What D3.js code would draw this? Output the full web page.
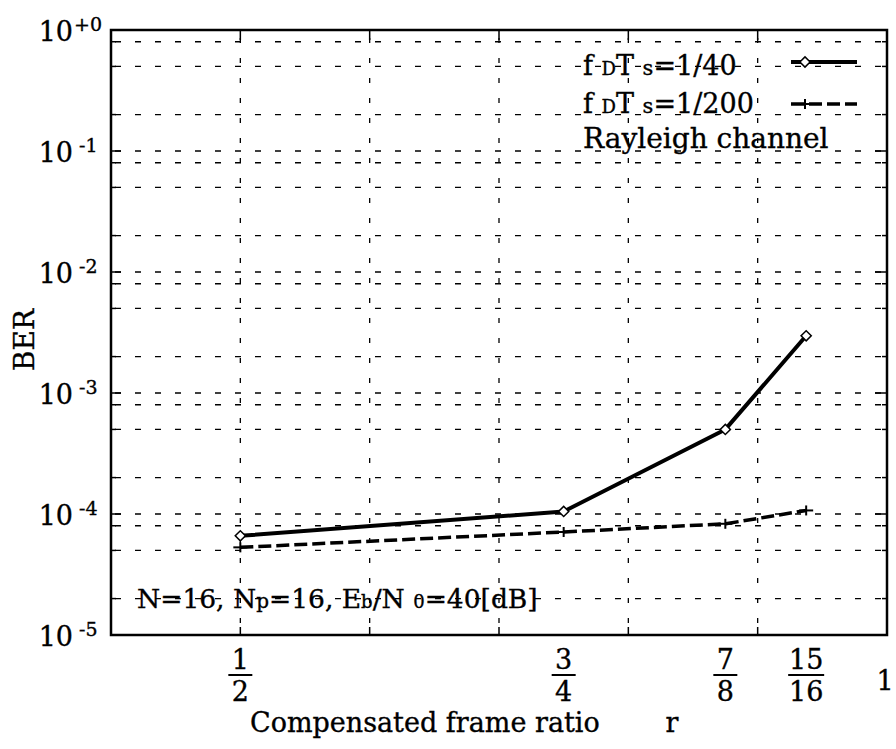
<!DOCTYPE html>
<html>
<head>
<meta charset="utf-8">
<script src="https://cdn.jsdelivr.net/npm/d3@7"></script>
<style>
  html, body { margin: 0; padding: 0; background: #fff; }
  svg { display: block; font-family: "DejaVu Serif", "Liberation Serif", serif; }
  svg text { stroke: #000; stroke-width: 0.35px; }
</style>
</head>
<body>
<svg id="chart" width="896" height="749"></svg>
<script>
// ---- data ----
const ratios = [0.5, 0.75, 0.875, 0.9375];
const berFd40 = [6.6e-5, 1.05e-4, 5.0e-4, 2.97e-3];
const berFd200 = [5.3e-5, 7.1e-5, 8.3e-5, 1.07e-4];
const seriesNames = ["1/40", "1/200"];
const xTickValues = [0.5, 0.75, 0.875, 0.9375];
const xTickNums = ["1", "3", "7", "15"];
const xTickDens = ["2", "4", "8", "16"];
const xGridValues = [0.5, 0.6, 0.7, 0.8, 0.9];
const yDecadeExps = [0, -1, -2, -3, -4, -5];
const yMantissas = [2, 5, 8];

// ---- layout ----
const svg = d3.select("#chart");
const L = 111, R = 887, T = 30, B = 635;
const x = d3.scaleLinear().domain([0.4, 1.0]).range([L, R]);
const y = d3.scaleLog().domain([1e-5, 1]).range([B, T]);

const yGridValues = [];
yDecadeExps.forEach(e => {
  if (e < 0 && e > -5) yGridValues.push(Math.pow(10, e));
  if (e > -5) yMantissas.forEach(m => yGridValues.push(m * Math.pow(10, e - 1)));
});

const g = svg.append("g");

// horizontal grid
g.selectAll("line.hg").data(yGridValues).enter().append("line")
  .attr("x1", L).attr("x2", R)
  .attr("y1", d => y(d)).attr("y2", d => y(d))
  .attr("stroke", "#000").attr("stroke-width", 1.3)
  .attr("stroke-dasharray", "6,14").attr("stroke-dashoffset", -4);

// vertical grid
g.selectAll("line.vg").data(xGridValues).enter().append("line")
  .attr("x1", d => x(d)).attr("x2", d => x(d))
  .attr("y1", T).attr("y2", B)
  .attr("stroke", "#000").attr("stroke-width", 1.3)
  .attr("stroke-dasharray", "5,15").attr("stroke-dashoffset", -8);

// ticks on the frame
const isDecade = v => Math.abs(Math.log10(v) - Math.round(Math.log10(v))) < 1e-6;
g.selectAll("line.lt").data(yGridValues).enter().append("line")
  .attr("x1", L).attr("x2", d => L + (isDecade(d) ? 10 : 5))
  .attr("y1", d => y(d)).attr("y2", d => y(d))
  .attr("stroke", "#000").attr("stroke-width", 1.5);
g.selectAll("line.rt").data(yGridValues).enter().append("line")
  .attr("x1", R).attr("x2", d => R - (isDecade(d) ? 12 : 5))
  .attr("y1", d => y(d)).attr("y2", d => y(d))
  .attr("stroke", "#000").attr("stroke-width", 1.5);
g.selectAll("line.bt").data(xGridValues).enter().append("line")
  .attr("x1", d => x(d)).attr("x2", d => x(d))
  .attr("y1", B).attr("y2", B - 8)
  .attr("stroke", "#000").attr("stroke-width", 1.5);
g.selectAll("line.tt").data(xGridValues).enter().append("line")
  .attr("x1", d => x(d)).attr("x2", d => x(d))
  .attr("y1", T).attr("y2", T + 10)
  .attr("stroke", "#000").attr("stroke-width", 1.5);

// frame
g.append("rect").attr("x", L).attr("y", T).attr("width", R - L).attr("height", B - T)
  .attr("fill", "none").attr("stroke", "#000").attr("stroke-width", 2.5);

// y tick labels
const yl = g.selectAll("g.ylab").data(yDecadeExps).enter().append("g");
yl.append("text")
  .attr("x", 73).attr("y", d => y(Math.pow(10, d)) + 11)
  .attr("text-anchor", "end").attr("font-size", 27)
  .text("10");
yl.append("text")
  .attr("x", d => d === 0 ? 74 : 79).attr("y", d => y(Math.pow(10, d)) + 1)
  .attr("text-anchor", "start").attr("font-size", 19)
  .text(d => d === 0 ? "+0" : "-" + Math.abs(d));

// x tick labels (fractions)
const xl = g.selectAll("g.xlab").data(xTickValues).enter().append("g")
  .attr("transform", d => `translate(${x(d)},0)`);
xl.append("text").attr("y", 669).attr("text-anchor", "middle").attr("font-size", 27)
  .text((d, i) => xTickNums[i]);
xl.append("line")
  .attr("x1", (d, i) => xTickDens[i].length > 1 ? -18 : -12)
  .attr("x2", (d, i) => xTickDens[i].length > 1 ? 18 : 12)
  .attr("y1", 675).attr("y2", 675).attr("stroke", "#000").attr("stroke-width", 2);
xl.append("text").attr("y", 701).attr("text-anchor", "middle").attr("font-size", 27)
  .text((d, i) => xTickDens[i]);
g.append("text").attr("x", 885).attr("y", 690).attr("text-anchor", "middle")
  .attr("font-size", 27).text("1");

// axis titles
g.append("text").attr("x", 250).attr("y", 732).attr("font-size", 27)
  .text("Compensated frame ratio");
g.append("text").attr("x", 672).attr("y", 732).attr("font-size", 27)
  .attr("text-anchor", "middle").text("r");
g.append("text").attr("transform", "translate(34,340) rotate(-90)")
  .attr("text-anchor", "middle").attr("font-size", 28).text("BER");

// data lines
const line = d3.line().x(d => x(d[0])).y(d => y(d[1]));
const d40 = ratios.map((r, i) => [r, berFd40[i]]);
const d200 = ratios.map((r, i) => [r, berFd200[i]]);

g.append("path").datum(d200).attr("d", line)
  .attr("fill", "none").attr("stroke", "#000").attr("stroke-width", 3.5)
  .attr("stroke-dasharray", "13,5");
g.append("path").datum(d40).attr("d", line)
  .attr("fill", "none").attr("stroke", "#000").attr("stroke-width", 4)
  .attr("stroke-linejoin", "round");

function plus(sel, cx, cy) {
  sel.append("line").attr("x1", cx - 7).attr("x2", cx + 7).attr("y1", cy).attr("y2", cy)
    .attr("stroke", "#000").attr("stroke-width", 2);
  sel.append("line").attr("x1", cx).attr("x2", cx).attr("y1", cy - 5).attr("y2", cy + 5)
    .attr("stroke", "#000").attr("stroke-width", 2);
}
function diamond(sel, cx, cy) {
  sel.append("path").attr("d", d3.symbol(d3.symbolSquare, 52)())
    .attr("transform", `translate(${cx},${cy}) rotate(45)`)
    .attr("fill", "#fff").attr("stroke", "#000").attr("stroke-width", 1.5);
}
d200.forEach(d => plus(g, x(d[0]), y(d[1])));
d40.forEach(d => diamond(g, x(d[0]), y(d[1])));

// legend
function legendLabel(yy, val) {
  const t = g.append("text").attr("x", 583).attr("y", yy).attr("font-size", 27);
  t.append("tspan").text("f ");
  t.append("tspan").attr("font-size", 18).text("D");
  t.append("tspan").text("T ");
  t.append("tspan").attr("font-size", 21).text("s");
  t.append("tspan").text("=" + val);
}
legendLabel(75, seriesNames[0]);
legendLabel(113, seriesNames[1]);
g.append("line").attr("x1", 791).attr("x2", 857).attr("y1", 62).attr("y2", 62)
  .attr("stroke", "#000").attr("stroke-width", 4);
diamond(g, 805, 62);
g.append("line").attr("x1", 791).attr("x2", 857).attr("y1", 104).attr("y2", 104)
  .attr("stroke", "#000").attr("stroke-width", 3.5).attr("stroke-dasharray", "13,5");
plus(g, 805, 104);
g.append("text").attr("x", 583).attr("y", 148).attr("font-size", 28).text("Rayleigh channel");

// annotation
const an = g.append("text").attr("x", 137).attr("y", 608).attr("font-size", 26.5);
an.append("tspan").text("N=16, N");
an.append("tspan").attr("font-size", 20).text("p");
an.append("tspan").text("=16, E");
an.append("tspan").attr("font-size", 18).text("b");
an.append("tspan").text("/N ");
an.append("tspan").attr("font-size", 18).text("0");
an.append("tspan").text("=40[dB]");
</script>
</body>
</html>
